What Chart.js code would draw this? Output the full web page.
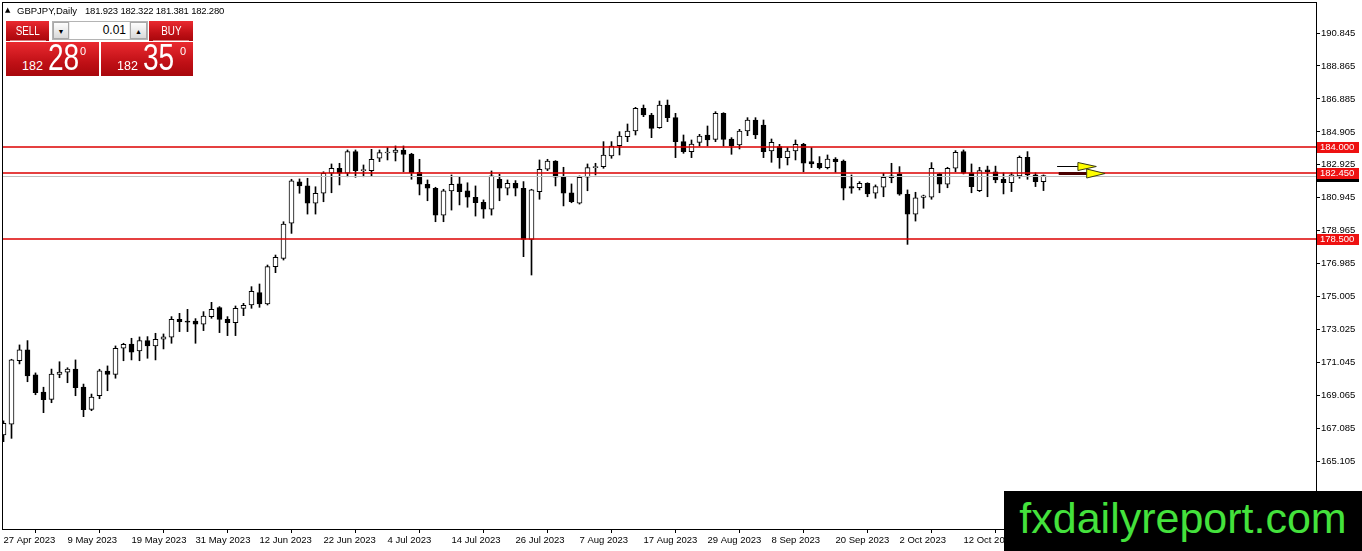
<!DOCTYPE html>
<html><head><meta charset="utf-8">
<script src="https://cdn.jsdelivr.net/npm/chart.js@4.4.1/dist/chart.umd.min.js"></script>
<style>
html,body{margin:0;padding:0;background:#fff;overflow:hidden}
#wrap{position:relative;width:1362px;height:551px;font-family:"Liberation Sans",Arial,"DejaVu Sans",sans-serif;color:#000}
canvas{position:absolute;left:0;top:0}
.abs{position:absolute;white-space:nowrap}
.red{background:linear-gradient(#ea2a30,#c01016 60%,#a8070c);color:#fff}
.btn{font-size:12px;line-height:20px;text-align:center}
.btn span{display:inline-block;transform:scaleX(.82)}
.gbtn{background:linear-gradient(#fdfdfd,#d9d9d9);border:1px solid #a8a8a8;box-sizing:border-box;font-size:7px;line-height:17px;text-align:center;color:#000}
.big{font-size:36px;line-height:36px;transform:scaleX(.78);transform-origin:left top;color:#fff}
.small{font-size:12.5px;line-height:12.5px;color:#fff}
.sup{font-size:11px;line-height:11px;color:#fff}
</style></head>
<body><div id="wrap">
<canvas id="c" width="1362" height="551"></canvas>
<div class="abs" style="left:5px;top:6px;font-size:7px;line-height:8px;font-family:'DejaVu Sans',sans-serif">▲</div>
<div class="abs" style="left:17px;top:5px;font-size:9.5px;line-height:12px">GBPJPY,Daily</div>
<div class="abs" id="ohlc" style="left:85px;top:5px;font-size:9.5px;line-height:12px;letter-spacing:-0.2px"></div>

<div class="abs red btn" style="left:6px;top:21px;width:43px;height:20px"><span>SELL</span></div>
<div class="abs" style="left:10px;top:40px;width:36px;height:1px;background:rgba(255,200,200,.6)"></div>
<div class="abs" style="left:52px;top:21px;width:96px;height:19px;background:#ececec;border:1px solid #b4b4b4;box-sizing:border-box"></div>
<div class="abs gbtn" style="left:53px;top:22px;width:16px;height:17px">▼</div>
<div class="abs" style="left:70px;top:22px;width:59px;height:17px;background:#fff;font-size:12px;line-height:17px;text-align:right;box-sizing:border-box;padding-right:3px">0.01</div>
<div class="abs gbtn" style="left:130px;top:22px;width:17px;height:17px">▲</div>
<div class="abs red btn" style="left:149px;top:21px;width:44px;height:20px"><span>BUY</span></div>
<div class="abs" style="left:153px;top:40px;width:36px;height:1px;background:rgba(255,200,200,.6)"></div>

<div class="abs red" style="left:6px;top:42px;width:93px;height:34px"></div>
<div class="abs red" style="left:101px;top:42px;width:92px;height:34px"></div>
<div class="abs small" style="left:22px;top:60px" id="sellHead"></div>
<div class="abs big" style="left:48px;top:40px" id="sellBig"></div>
<div class="abs sup" style="left:80px;top:46px" id="sellSup"></div>
<div class="abs small" style="left:117px;top:60px" id="buyHead"></div>
<div class="abs big" style="left:143px;top:40px" id="buyBig"></div>
<div class="abs sup" style="left:180px;top:46px" id="buySup"></div>

<div class="abs" style="left:1004px;top:491px;width:358px;height:60px;background:#000;color:#44e23c;font-size:43px;line-height:54px;text-align:center">fxdailyreport.com</div>
</div>
<script>
// ---- data ----
const opens = [166.70,167.35,171.16,171.81,170.31,169.28,168.84,170.34,170.48,170.66,169.58,168.24,169.06,170.54,170.34,171.91,172.16,171.75,172.37,172.05,
172.45,172.57,173.65,173.51,173.55,173.35,173.81,174.35,173.65,173.45,174.31,174.51,175.25,174.57,176.81,177.31,179.42,181.90,181.66,180.62,
181.22,182.42,182.72,182.42,183.72,182.58,182.58,183.32,183.64,183.68,183.82,183.58,182.48,181.76,181.52,179.91,181.36,181.78,181.36,180.98,
180.67,180.26,182.06,181.52,181.82,181.52,178.45,181.32,182.66,183.16,182.18,181.25,180.62,182.18,182.76,182.82,183.46,184.08,184.62,184.96,
186.32,185.92,185.16,186.52,185.76,184.32,183.72,184.28,184.72,184.46,186.02,184.48,184.12,184.96,185.62,185.32,183.76,184.02,183.36,183.76,
184.16,183.12,183.02,182.76,183.28,183.16,181.62,181.55,181.82,181.22,181.58,182.27,182.38,181.16,179.96,180.97,180.98,182.38,181.76,182.72,
183.72,182.45,181.37,182.62,182.51,182.06,181.85,182.26,183.38,182.32,181.923];
const highs = [167.55,171.25,172.11,172.37,170.43,169.57,170.66,171.10,170.74,171.21,169.76,169.16,170.65,170.85,172.05,172.21,172.51,172.59,172.61,172.81,
172.77,173.81,174.01,174.25,173.69,174.11,174.67,174.41,173.81,174.45,174.61,175.61,175.77,176.91,177.51,179.51,182.06,182.08,182.12,181.61,
182.51,182.98,183.02,183.82,183.82,182.92,183.86,183.82,183.96,184.06,184.06,183.62,183.26,182.02,181.58,181.46,182.32,182.18,181.85,181.66,
180.82,182.56,182.36,182.02,181.98,181.92,181.46,183.22,183.26,183.18,182.78,181.78,182.26,182.98,183.02,184.32,184.32,184.92,185.38,186.38,
186.52,186.02,186.76,186.82,186.02,184.72,184.42,184.76,185.26,186.12,186.06,184.56,185.06,185.76,185.76,185.62,184.48,184.16,183.96,184.42,
184.22,183.96,183.42,183.52,183.36,183.22,182.32,181.92,181.85,181.72,182.42,183.02,182.82,181.42,181.28,181.11,183.06,182.42,182.78,183.78,
183.82,182.98,182.78,182.85,182.85,182.45,182.45,183.46,183.72,182.45,182.322];
const lows = [166.30,166.50,170.97,169.90,169.12,168.04,168.64,170.14,169.84,169.06,167.80,168.16,168.88,169.36,170.11,171.16,171.21,171.16,171.31,171.21,
171.87,172.21,172.91,172.91,172.21,172.97,173.71,172.85,172.67,172.67,173.87,174.31,174.37,174.51,176.45,177.21,178.81,181.22,179.97,179.97,
180.71,181.25,181.72,182.21,182.18,182.21,182.26,183.12,183.22,183.16,182.51,182.06,181.12,180.77,179.51,179.51,180.21,180.52,180.38,179.85,
179.72,179.91,180.77,181.12,181.06,177.41,176.31,180.86,182.58,181.66,180.46,180.65,180.57,181.37,182.32,182.72,183.32,183.52,184.32,184.72,
185.82,184.56,185.12,185.52,183.36,183.62,183.36,184.06,184.06,184.32,184.06,183.56,183.88,184.68,184.50,183.36,183.08,182.72,182.92,183.22,
182.51,182.76,182.68,182.68,182.48,180.82,181.22,181.42,181.01,180.92,181.01,181.85,181.10,178.15,179.55,180.32,180.86,181.25,181.55,182.51,
182.38,181.25,181.32,181.01,181.85,181.18,181.32,182.12,182.06,181.62,181.381];
const closes = [167.40,171.21,171.81,170.25,169.24,168.82,170.36,170.48,170.66,169.54,168.22,168.98,170.56,170.34,171.91,172.15,171.67,172.37,172.05,172.45,
172.59,173.65,173.51,173.48,173.35,173.85,174.25,173.65,173.45,174.31,174.49,175.33,174.57,176.81,177.37,179.37,181.96,181.66,180.62,181.22,
182.42,182.72,182.42,183.72,182.58,182.62,183.26,183.66,183.68,183.82,183.56,182.45,181.76,181.52,179.91,181.36,181.76,181.32,180.98,180.65,
180.26,182.26,181.52,181.82,181.52,178.45,181.42,182.66,183.16,182.18,181.22,180.71,182.18,182.76,182.80,183.52,184.06,184.66,184.96,186.32,
185.92,185.12,186.52,185.76,184.32,183.72,184.18,184.66,184.42,186.02,184.46,184.08,184.96,185.62,184.72,183.72,184.28,183.36,183.76,184.16,
183.02,182.98,182.76,183.28,183.12,181.52,181.52,181.82,181.18,181.62,182.18,182.16,181.16,179.96,180.95,181.07,182.72,181.76,182.72,183.68,
182.42,181.62,182.58,182.51,182.02,181.85,182.32,183.38,182.32,181.92,182.280];
const symbolName = "GBPJPY,Daily";
const xTickBars = [0,8,16,24,32,40,48,56,64,72,80,88,96,104,112,120];
const xTickLabels = ["27 Apr 2023","9 May 2023","19 May 2023","31 May 2023","12 Jun 2023","22 Jun 2023","4 Jul 2023","14 Jul 2023",
"26 Jul 2023","7 Aug 2023","17 Aug 2023","29 Aug 2023","8 Sep 2023","20 Sep 2023","2 Oct 2023","12 Oct 2023"];
const yTicks = [165.105,167.085,169.065,171.045,173.025,175.005,176.985,178.965,180.945,182.925,184.905,186.885,188.865,190.845];
const levels = [184.000,182.450,178.500];
const askPrice = 182.350;
const arrowPrice = [182.87,182.42];
const arrowFrom = [131.7,131.9];
const arrowBase = [134.3,135.4];
const arrowTip  = [136.6,137.7];

// ---- text overlays ----
const last = closes.length-1;
document.getElementById('ohlc').textContent =
  [opens[last],highs[last],lows[last],closes[last]].map(v=>v.toFixed(3)).join(' ');
function splitPrice(p){const s=p.toFixed(3);return [s.slice(0,3),s.slice(4,6),s.slice(6)];}
const sp=splitPrice(closes[last]), bp=splitPrice(askPrice);
document.getElementById('sellHead').textContent=sp[0];
document.getElementById('sellBig').textContent=sp[1];
document.getElementById('sellSup').textContent=sp[2];
document.getElementById('buyHead').textContent=bp[0];
document.getElementById('buyBig').textContent=bp[1];
document.getElementById('buySup').textContent=bp[2];

// ---- chart ----
const FONT = {family:"'Liberation Sans', Arial, sans-serif", size:9.5};
const bodyColors = opens.map((o,i)=> closes[i]>=o ? '#ffffff' : '#000000');
const overlay = {
  id:'overlay',
  afterDatasetsDraw(chart){
    const {ctx, chartArea:a, scales:{x,y}} = chart;
    ctx.save();
    const hline=(v,color,w,off)=>{const py=Math.round(y.getPixelForValue(v))+off;ctx.strokeStyle=color;ctx.lineWidth=w;
      ctx.beginPath();ctx.moveTo(a.left,py);ctx.lineTo(a.right,py);ctx.stroke();};
    hline(closes[last],'#c0c0c0',1,0.5);
    levels.forEach(v=>hline(v,'#dc0000',1.3,0));
    const lineCol=['#000000','#4a0000'], lineW=[1,3], half=[4,4.5];
    arrowPrice.forEach((p,k)=>{
      const py=Math.round(y.getPixelForValue(p))+0.5;
      const x0=x.getPixelForValue(arrowFrom[k]), xb=x.getPixelForValue(arrowBase[k]), xt=x.getPixelForValue(arrowTip[k]);
      ctx.strokeStyle=lineCol[k];ctx.lineWidth=lineW[k];
      ctx.beginPath();ctx.moveTo(x0,py);ctx.lineTo(xb+2,py);ctx.stroke();
      ctx.beginPath();ctx.moveTo(xb,py-half[k]);ctx.lineTo(xt,py);ctx.lineTo(xb,py+half[k]);ctx.closePath();
      ctx.fillStyle='#ffff00';ctx.fill();ctx.strokeStyle='#3a3a10';ctx.lineWidth=1;ctx.stroke();
    });
    ctx.restore();
  },
  afterDraw(chart){
    const {ctx, chartArea:a, scales:{y}} = chart;
    ctx.save();
    ctx.strokeStyle='#000';ctx.lineWidth=1;
    ctx.strokeRect(a.left+0.5,a.top-0.5,a.right-a.left,a.bottom-a.top+1);
    const tag=(v,bg)=>{const py=Math.round(y.getPixelForValue(v));
      ctx.fillStyle=bg;ctx.fillRect(a.right+1,py-5,42,11);
      ctx.fillStyle='#fff';ctx.font="9.5px 'Liberation Sans', Arial, sans-serif";ctx.textBaseline='middle';ctx.textAlign='left';
      ctx.fillText(v.toFixed(3),a.right+4,py+0.5);};
    tag(closes[last],'#000000');
    levels.forEach(v=>tag(v,'#ee1111'));
    ctx.restore();
  }
};

new Chart(document.getElementById('c'), {
  type:'bar',
  data:{datasets:[
    {label:'wick', data:lows.map((l,i)=>({x:i,y:[l,highs[i]]})), backgroundColor:'#000', barThickness:1, grouped:false, order:2},
    {label:'body', data:opens.map((o,i)=>({x:i,y:[o,closes[i]]})), backgroundColor:bodyColors, borderColor:'#000', borderWidth:1,
     borderSkipped:false, barThickness:5, minBarLength:1, grouped:false, order:1}
  ]},
  options:{
    responsive:false, animation:false, events:[],
    layout:{padding:{left:2,top:3,right:0,bottom:0}},
    plugins:{legend:{display:false},tooltip:{enabled:false}},
    scales:{
      x:{type:'linear', position:'bottom', min:-0.1875, max:164.0625, offset:false,
        grid:{display:true,drawOnChartArea:false,drawTicks:true,tickLength:4,color:'#000'},
        border:{display:false},
        ticks:{autoSkip:false,maxRotation:0,minRotation:0,align:'start',padding:2,color:'#000',font:FONT,
          callback:(v,i)=>xTickLabels[i]},
        afterBuildTicks:s=>{s.ticks=xTickBars.map(v=>({value:v}));},
        afterFit:s=>{s.height=22;s.paddingLeft=0;s.paddingRight=0;}},
      y:{type:'linear', position:'right', min:161.055, max:192.647,
        grid:{display:true,drawOnChartArea:false,drawTicks:true,tickLength:4,color:'#000'},
        border:{display:false},
        ticks:{padding:1,color:'#000',font:FONT,callback:v=>Number(v).toFixed(3)},
        afterBuildTicks:s=>{s.ticks=yTicks.map(v=>({value:v}));},
        afterFit:s=>{s.width=46;s.paddingTop=0;s.paddingBottom=0;}}
    }
  },
  plugins:[overlay]
});
</script>
</body></html>
